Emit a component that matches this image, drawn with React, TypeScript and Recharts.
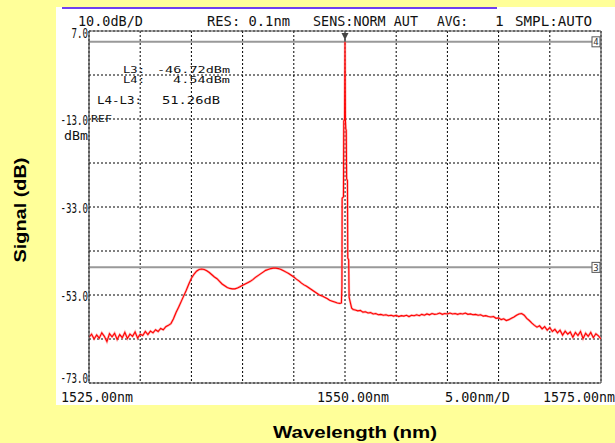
import React from 'react';
import { LineChart, Line, XAxis, YAxis, CartesianGrid, ReferenceLine, ReferenceDot } from 'recharts';

// ---- data ----
const LEFT_START = 1525;
const STEP = 0.25;
const leftSignal = [
  -62.6, -61.9, -63.0, -62.1, -62.8, -61.6, -62.4, -63.6, -61.8, -62.5,
  -61.7, -63.1, -62.0, -62.7, -61.5, -62.9, -61.9, -62.4, -61.4, -62.8,
  -61.9, -62.2, -61.3, -62.0, -61.2, -61.6, -60.9, -61.3, -60.6, -60.9,
  -60.2, -59.9, -59.5, -58.4, -57.0, -55.8, -54.5, -53.2, -51.9, -50.5,
  -49.2, -48.3, -47.6, -47.2, -47.1, -47.2, -47.5, -47.9, -48.4, -48.9,
  -49.3, -49.9, -50.5, -50.9, -51.3, -51.5, -51.6, -51.6, -51.4, -51.1,
  -50.8, -50.5, -50.2, -49.9, -49.5, -49.0, -48.6, -48.2, -47.8, -47.4,
  -47.2, -47.0, -46.9, -46.9, -47.0, -47.2, -47.5, -47.8, -48.1, -48.5,
  -48.9, -49.4, -49.8, -50.3, -50.7, -51.0, -51.4, -51.8, -52.2, -52.6,
  -53.0, -53.2, -53.5, -53.8, -54.2, -54.4, -54.6, -54.8, -54.9,
];
const peakWavelengths = [
  1549.65, 1549.7, 1549.72, 1549.85, 1549.88, 1549.96, 1550.0, 1550.04, 1550.08, 1550.12,
  1550.16, 1550.24, 1550.27, 1550.36, 1550.4, 1550.5, 1550.65, 1550.8, 1551.0,
];
const peakSignal = [
  -54.8, -51.0, -31.0, -30.7, -13.5, -13.0, 4.54, -13.2, -15.3, -15.5,
  -26.6, -27.0, -44.6, -45.0, -53.5, -54.5, -56.0, -56.3, -56.4,
];
const RIGHT_START = 1551.25;
const rightSignal = [
  -56.6, -56.5, -56.9,
  -56.8, -57.1, -57.0, -57.3,
  -57.2, -57.5, -57.4, -57.6,
  -57.5, -57.7, -57.6, -57.8,
  -57.6, -57.9, -57.7, -57.8,
  -57.6, -57.9, -57.6, -57.7,
  -57.5, -57.7, -57.4, -57.6,
  -57.3, -57.5, -57.2, -57.4,
  -57.3, -57.1, -57.4, -57.2,
  -57.3, -57.1, -57.3, -57.2,
  -57.4, -57.2, -57.3, -57.1,
  -57.4, -57.3, -57.5, -57.4,
  -57.6, -57.5, -57.8, -57.7,
  -57.9, -58.0, -57.9, -58.3,
  -58.2, -58.6, -58.4, -58.8,
  -58.6, -58.3, -58.0, -57.6,
  -57.3, -57.2, -57.6, -58.3,
  -58.8, -59.4, -59.9, -60.3,
  -60.0, -60.7, -60.2, -61.0,
  -60.4, -61.3, -60.8, -61.6,
  -61.0, -62.1, -61.2, -61.9,
  -61.4, -62.6, -61.5, -62.2,
  -61.3, -62.9, -61.7, -62.4,
  -61.5, -62.7, -61.8, -62.3,
  -63.0,
];

const xTicks = [1525, 1530, 1535, 1540, 1545, 1550, 1555, 1560, 1565, 1570, 1575];
const yTicks = [7, -3, -13, -23, -33, -43, -53, -63, -73];
const yLabels: Record<string, string> = { '7': '7.0', '-13': '-13.0', '-33': '-33.0', '-53': '-53.0', '-73': '-73.0' };
const xLabels: Record<string, string> = { '1525': '1525.00nm', '1550': '1550.00nm', '1575': '1575.00nm' };
const L4_LEVEL = 4.54;
const L3_LEVEL = -46.72;
const MARKER_WL = 1550;

const data = [
  ...leftSignal.map((s, i) => ({ w: LEFT_START + i * STEP, s })),
  ...peakWavelengths.map((w, i) => ({ w, s: peakSignal[i] })),
  ...rightSignal.map((s, i) => ({ w: RIGHT_START + i * STEP, s })),
];

const MONO = 'DejaVu Sans Mono, monospace';

const XTick = (props: any) => {
  const { x, y, payload } = props;
  const label = xLabels[String(payload.value)];
  if (!label) return null;
  const off = payload.value === 1575 ? -58 : -28;
  return (
    <text x={x + off} y={y + 18.5} fontFamily={MONO} fontSize={13.5} fill="#111"
      textLength={label.length * 8} lengthAdjust="spacingAndGlyphs">{label}</text>
  );
};

const YTick = (props: any) => {
  const { x, y, payload } = props;
  const label = yLabels[String(payload.value)];
  if (!label) return null;
  const w = label.length * 5.5;
  let dy = 6;
  if (payload.value === 7) dy = 7;
  if (payload.value === -73) dy = 0;
  return (
    <text x={x - 1 - w} y={y + dy} fontFamily={MONO} fontSize={13.5} fill="#111"
      textLength={w} lengthAdjust="spacingAndGlyphs">{label}</text>
  );
};

const BoxLabel = (props: any) => {
  const { viewBox, text } = props;
  if (!viewBox) return null;
  const bx = viewBox.x + viewBox.width - 9;
  const by = viewBox.y - 5;
  return (
    <g>
      <rect x={bx} y={by} width={8} height={10} fill="#fff" stroke="#555" strokeWidth={1} />
      <text x={bx + 4} y={by + 8.5} textAnchor="middle" fontFamily={MONO} fontSize={9} fill="#333">{text}</text>
    </g>
  );
};

const Triangle = (props: any) => {
  const { cx, cy } = props;
  return (
    <g>
      <line x1={cx} y1={cy + 2} x2={cx} y2={cy + 11} stroke="#444" strokeWidth={1} />
      <polygon points={`${cx - 3.5},${cy + 2} ${cx + 3.5},${cy + 2} ${cx},${cy + 9}`} fill="#444" />
    </g>
  );
};

const T = (p: { x: number; y: number; w?: number; size?: number; children: string }) => (
  <text x={p.x} y={p.y} fontFamily={MONO} fontSize={p.size ?? 13} fill="#111"
    {...(p.w ? { textLength: p.w, lengthAdjust: 'spacingAndGlyphs' } : {})}>{p.children}</text>
);

export default function App() {
  return (
    <div style={{ position: 'absolute', left: 0, top: 0, width: 615, height: 443, background: '#ffff99', overflow: 'hidden' }}>
      <div style={{ position: 'absolute', left: 56, top: 7, width: 559, height: 398, background: '#ffffff' }} />
      <div style={{ position: 'absolute', left: 62, top: 7, width: 435, height: 1.5, background: '#7040f0' }} />
      <div style={{ position: 'absolute', left: 0, top: 0 }}>
        <LineChart width={615} height={443} data={data} margin={{ top: 31, right: 14, bottom: 30, left: 49 }}>
          <CartesianGrid stroke="#000" strokeDasharray="2 2" strokeWidth={1} />
          <XAxis dataKey="w" type="number" domain={[1525, 1575]} ticks={xTicks} allowDataOverflow
            height={30} tickSize={0} tickMargin={0} tickLine={false} tick={<XTick />}
            axisLine={{ stroke: '#444', strokeWidth: 1.2 }} interval={0} />
          <YAxis type="number" domain={[-73, 7]} ticks={yTicks} allowDataOverflow
            width={40} tickSize={0} tickMargin={0} tickLine={false} tick={<YTick />}
            axisLine={{ stroke: '#444', strokeWidth: 1.2 }} interval={0} />
          <ReferenceLine y={7} stroke="#555" strokeWidth={1.2} />
          <ReferenceLine x={1575} stroke="#555" strokeWidth={1.2} />
          <ReferenceLine y={L4_LEVEL} stroke="#999" strokeWidth={2} label={<BoxLabel text="4" />} />
          <ReferenceLine y={L3_LEVEL} stroke="#999" strokeWidth={2} label={<BoxLabel text="3" />} />
          <Line dataKey="s" type="linear" dot={false} stroke="#ff8080" strokeWidth={2.4} strokeOpacity={0.6} isAnimationActive={false} />
          <Line dataKey="s" type="linear" dot={false} stroke="#ff0000" strokeWidth={1.1} isAnimationActive={false} />
          <ReferenceDot x={MARKER_WL} y={7} r={0} ifOverflow="visible" shape={(p: any) => <Triangle {...p} />} />
        </LineChart>
      </div>
      <svg width={615} height={443} style={{ position: 'absolute', left: 0, top: 0, pointerEvents: 'none' }}>
        <T x={78} y={25.5} w={65} size={14.5}>10.0dB/D</T>
        <T x={207} y={25.5} w={83} size={14.5}>RES: 0.1nm</T>
        <T x={313} y={25.5} w={105} size={14.5}>SENS:NORM AUT</T>
        <T x={437} y={25.5} w={31} size={14.5}>AVG:</T>
        <T x={495} y={25.5} size={14.5}>1</T>
        <T x={515} y={25.5} w={77} size={14.5}>SMPL:AUTO</T>

        <T x={123} y={73} w={22} size={9.5}>L3:</T>
        <T x={157} y={73} w={73} size={9.5}>-46.72dBm</T>
        <T x={123} y={82.5} w={22} size={9.5}>L4:</T>
        <T x={173} y={82.5} w={57} size={9.5}>4.54dBm</T>
        <T x={97} y={104} w={45} size={10.5}>L4-L3:</T>
        <T x={162} y={104} w={58} size={10.5}>51.26dB</T>

        <T x={91} y={122} w={21} size={8.5}>REF</T>
        <T x={64} y={140} w={24} size={13}>dBm</T>
        <T x={445} y={401.5} w={65} size={13.5}>5.00nm/D</T>

        <text x={0} y={0} transform="translate(26,210) rotate(-90)" textAnchor="middle"
          fontFamily="Liberation Sans, Arial, sans-serif" fontWeight="bold" fontSize={17} fill="#000"
          textLength={105} lengthAdjust="spacingAndGlyphs">Signal (dB)</text>
        <text x={355} y={438} textAnchor="middle"
          fontFamily="Liberation Sans, Arial, sans-serif" fontWeight="bold" fontSize={17} fill="#000"
          textLength={164} lengthAdjust="spacingAndGlyphs">Wavelength (nm)</text>
      </svg>
    </div>
  );
}
